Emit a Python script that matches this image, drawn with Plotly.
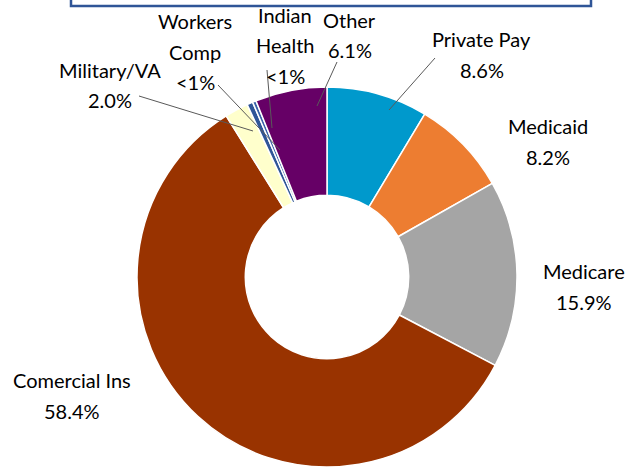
import plotly.graph_objects as go

W, H = 629, 473

categories = ["Private Pay", "Medicaid", "Medicare", "Comercial Ins",
              "Military/VA", "Workers Comp", "Indian Health", "Other"]
values = [8.6, 8.2, 15.9, 58.4, 2.0, 0.5, 0.3, 6.1]
value_labels = ["8.6%", "8.2%", "15.9%", "58.4%", "2.0%", "<1%", "<1%", "6.1%"]
colors = ["#0099CC", "#ED7D31", "#A5A5A5", "#993300",
          "#FFFFCC", "#2F5597", "#3A62A8", "#660066"]

# label text lines (name split as in the reference) + value label
name_lines = {
    "Private Pay": ["Private Pay"],
    "Medicaid": ["Medicaid"],
    "Medicare": ["Medicare"],
    "Comercial Ins": ["Comercial Ins"],
    "Military/VA": ["Military/VA"],
    "Workers Comp": ["Workers", "Comp"],
    "Indian Health": ["Indian", "Health"],
    "Other": ["Other"],
}
# pixel layout: text centre x, y of first line
label_pos = {
    "Private Pay": (482, 39),
    "Medicaid": (548, 126),
    "Medicare": (584, 271),
    "Comercial Ins": (72, 380),
    "Military/VA": (110, 70),
    "Workers Comp": (195, 21),
    "Indian Health": (285, 15),
    "Other": (350, 20),
}
LINE_STEP = 30.5
leaders = {
    "Private Pay": ((435, 58), (389, 110)),
    "Other": ((337, 62), (317, 106)),
    "Indian Health": ((267, 70), (272, 128)),
    "Workers Comp": ((218, 85), (280, 150)),
    "Military/VA": ((139, 96), (253, 131)),
}

def px(x):
    return x / W

def py(y):
    return 1 - y / H

cx, cy, r = 327, 277, 190

fig = go.Figure(go.Pie(
    labels=categories,
    values=values,
    sort=False,
    direction="clockwise",
    rotation=0,
    hole=0.43,
    textinfo="none",
    hoverinfo="label+percent",
    marker=dict(colors=colors, line=dict(color="white", width=1.5)),
    domain=dict(x=[px(cx - r), px(cx + r)], y=[py(cy + r), py(cy - r)]),
    showlegend=False,
))

FONT = dict(family="Lato, Carlito, Calibri, sans-serif", size=20, color="#000000")
annotations = []
for c, v in zip(categories, value_labels):
    x, y0 = label_pos[c]
    lines = name_lines[c] + [v]
    for i, t in enumerate(lines):
        annotations.append(dict(
            x=px(x), y=py(y0 + i * LINE_STEP), xref="paper", yref="paper",
            text=t, showarrow=False, font=FONT,
            xanchor="center", yanchor="middle",
        ))

shapes = []
for c, ((x0, y0), (x1, y1)) in leaders.items():
    shapes.append(dict(
        type="line", xref="paper", yref="paper",
        x0=px(x0), y0=py(y0), x1=px(x1), y1=py(y1),
        line=dict(color="#595959", width=1),
    ))
# cut-off title frame at the top
shapes.append(dict(
    type="rect", xref="paper", yref="paper",
    x0=px(71), x1=px(591), y0=py(6), y1=py(-20),
    line=dict(color="#2F5597", width=2.5), fillcolor="rgba(0,0,0,0)",
))

fig.update_layout(
    width=W, height=H,
    margin=dict(l=0, r=0, t=0, b=0),
    paper_bgcolor="white",
    plot_bgcolor="white",
    annotations=annotations,
    shapes=shapes,
)

fig.write_html(
    "out.html",
    config={"displayModeBar": False},
    post_script="document.body.style.margin='0';document.body.style.overflow='hidden';",
)
